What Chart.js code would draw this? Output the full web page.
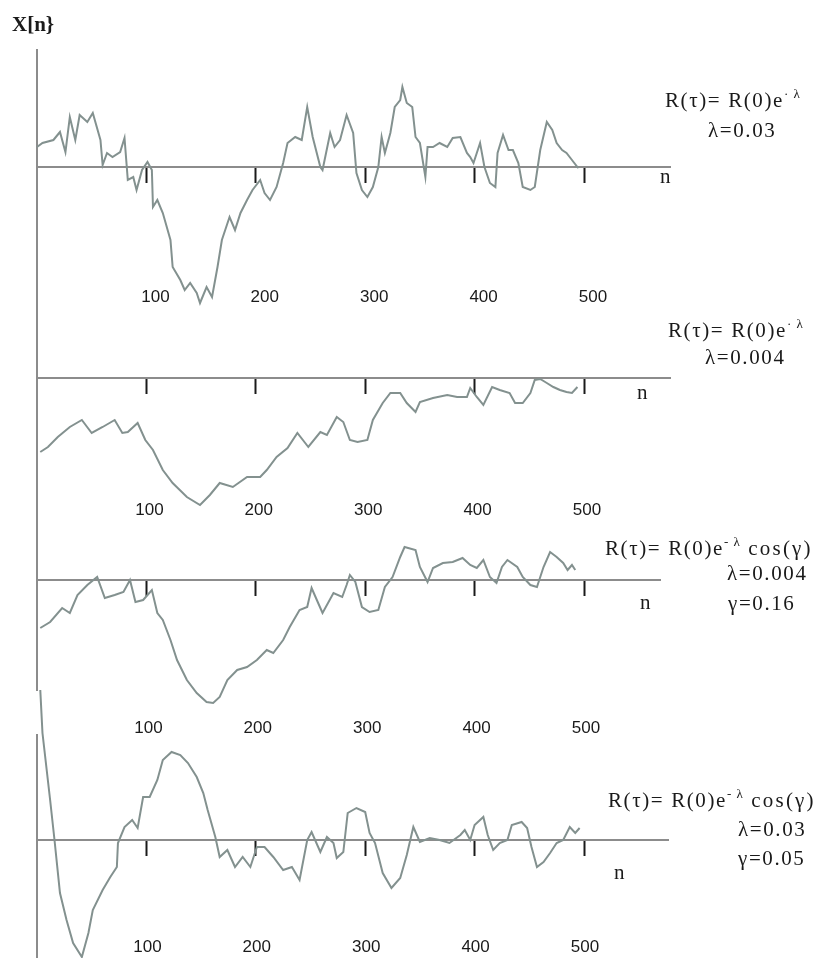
<!DOCTYPE html>
<html>
<head>
<meta charset="utf-8">
<script src="https://cdn.jsdelivr.net/npm/chart.js@4.4.1/dist/chart.umd.min.js"></script>
<style>
  html, body { margin: 0; padding: 0; background: #fff; }
  #wrap { position: relative; width: 828px; height: 958px; overflow: hidden; background: #fff; }
  #wrap canvas { position: absolute; left: 0; top: 0; }
  .t { position: absolute; font-family: "Liberation Serif", "Times New Roman", serif; color: #1a1a1a; white-space: nowrap; line-height: 1; }
  .f { font-size: 21px; letter-spacing: 1.6px; }
  .f sup { font-size: 13px; vertical-align: 9px; letter-spacing: 1px; }
  .cos { letter-spacing: 2.2px; }
</style>
</head>
<body>
<div id="wrap">
  <canvas id="c1" width="828" height="958"></canvas>
  <canvas id="c2" width="828" height="958"></canvas>
  <canvas id="c3" width="828" height="958"></canvas>
  <canvas id="c4" width="828" height="958"></canvas>
</div>
<script>
// ---------------- DATA (amplitude in arbitrary units) ----------------
const tickValues = [100, 200, 300, 400, 500];
const tickLabels = ['100', '200', '300', '400', '500'];
const yAxisTitle = 'X[n}';
const xAxisTitle = 'n';

const formulas = [
  ['R(τ)= R(0)e', '· λ', ''],
  ['R(τ)= R(0)e', '· λ', ''],
  ['R(τ)= R(0)e', '- λ', ' cos(γ)'],
  ['R(τ)= R(0)e', '- λ', ' cos(γ)']
];
const lambdas = ['λ=0.03', 'λ=0.004', 'λ=0.004', 'λ=0.03'];
const gammas = ['', '', 'γ=0.16', 'γ=0.05'];

// panel 1: exponential, lambda = 0.03
const n1 = [0,5,15,21,26,30,35,39,46,51,58,60,64,69,76,80,83,88,91,96,101,105,106,110,115,122,124,131,135,140,146,149,155,160,165,169,176,181,186,192,197,204,208,213,219,225,229,236,242,247,252,259,261,268,272,277,283,289,292,297,302,307,312,315,318,323,327,332,334,338,343,346,350,355,357,362,368,375,380,387,393,396,399,405,409,414,419,421,426,431,435,440,444,451,455,460,466,471,475,480,484,489,494,495];
const x1 = [20,24,27,35,15,50,27,52,45,54,27,2,14,10,15,29,-13,-10,-23,-3,5,-3,-40,-33,-46,-73,-100,-113,-123,-116,-126,-136,-120,-130,-100,-73,-50,-63,-46,-33,-23,-13,-26,-33,-20,4,24,30,27,60,30,0,-3,34,20,27,52,34,-6,-23,-30,-20,0,30,14,34,60,67,80,64,60,30,24,-10,20,20,24,20,29,30,14,10,4,24,0,-16,-20,14,32,17,17,4,-20,-23,-20,17,45,37,24,17,14,7,0,-1];

// panel 2: exponential, lambda = 0.004
const n2 = [3,10,19,30,41,50,60,71,78,83,92,99,106,115,124,137,149,158,167,179,192,204,210,219,229,238,248,259,265,274,280,286,293,302,307,316,323,332,338,346,350,362,375,384,393,396,402,408,416,423,432,437,444,451,455,460,466,472,478,484,489,494];
const x2 = [-74,-69,-59,-49,-42,-55,-49,-42,-55,-54,-45,-62,-72,-92,-105,-119,-127,-117,-105,-109,-99,-99,-92,-79,-70,-55,-69,-54,-57,-39,-44,-62,-64,-62,-42,-25,-15,-15,-25,-34,-24,-20,-17,-19,-19,-10,-19,-27,-9,-12,-15,-25,-25,-15,-2,-1,-5,-9,-12,-14,-15,-9];

// panel 3: exponential-cosine, lambda = 0.004, gamma = 0.16
const n3 = [3,12,23,30,37,46,55,62,71,79,85,90,97,105,110,115,122,128,137,146,155,161,167,174,183,192,201,210,216,225,231,240,247,251,257,261,271,279,283,286,291,297,304,312,318,325,332,336,346,350,357,362,371,380,389,396,402,408,414,420,425,430,439,444,451,457,463,469,475,481,485,489,492];
const x3 = [-48,-42,-28,-33,-15,-5,3,-18,-15,-12,0,-22,-20,-10,-33,-40,-60,-80,-100,-113,-122,-123,-117,-100,-90,-87,-80,-70,-73,-60,-47,-30,-27,-8,-23,-33,-13,-17,-5,5,-2,-27,-32,-30,-7,3,23,33,30,13,-2,12,17,18,22,15,12,20,3,-3,13,20,13,3,-5,-7,13,28,23,17,10,15,10];

// panel 4: exponential-cosine, lambda = 0.03, gamma = 0.05
const n4 = [3,5,12,16,21,27,33,41,47,51,60,67,73,74,80,87,92,97,103,110,115,123,131,138,146,152,156,163,167,174,181,188,195,201,208,216,225,233,240,247,251,259,265,271,274,280,284,292,300,304,309,316,324,332,338,344,350,359,368,377,387,391,396,400,408,412,417,423,430,434,443,448,452,457,463,469,475,481,487,492,496];
const x4 = [150,107,40,0,-53,-80,-103,-117,-93,-70,-50,-37,-27,-3,13,20,12,43,43,60,80,88,85,77,63,47,30,3,-17,-10,-27,-17,-27,-7,-7,-17,-30,-27,-40,0,8,-12,3,-3,-18,-12,27,32,28,7,-3,-33,-48,-38,-15,13,-2,2,0,-3,5,10,0,15,23,5,-10,-3,0,15,18,12,-7,-27,-22,-13,-3,0,13,7,12];

const series = [[n1, x1], [n2, x2], [n3, x3], [n4, x4]];

// ---------------- LAYOUT ----------------
const W = 828, H = 958, AX_LEFT = 37, PX_PER_N = 547 / 500;
const panels = [
  { top: 50,  bottom: 270, base: 167, right: 670, pad: 105, off: 9 },
  { top: 270, bottom: 480, base: 378, right: 670, pad: 107, off: 3 },
  { top: 480, bottom: 690, base: 580, right: 660, pad: 123, off: 2 },
  { top: 735, bottom: 958, base: 840, right: 668, pad: 82,  off: 1 }
];
const LINE_COLOR = '#83918f';
const AXIS_COLOR = '#8c8c8c';

panels.forEach((p, i) => {
  const [ns, vs] = series[i];
  new Chart(document.getElementById('c' + (i + 1)), {
    type: 'line',
    data: {
      datasets: [{
        data: ns.map((n, k) => ({ x: n, y: vs[k] })),
        borderColor: LINE_COLOR,
        borderWidth: 2,
        pointRadius: 0,
        tension: 0,
        fill: false,
        clip: false
      }]
    },
    options: {
      responsive: false,
      animation: false,
      events: [],
      layout: { padding: { left: AX_LEFT, right: W - p.right, top: p.top, bottom: H - p.bottom } },
      plugins: { legend: { display: false }, tooltip: { enabled: false } },
      scales: {
        x: {
          type: 'linear',
          min: 0,
          max: (p.right - AX_LEFT) / PX_PER_N,
          position: { y: 0 },
          afterBuildTicks: (s) => { s.ticks = tickValues.map(v => ({ value: v })); },
          grid: { display: true, drawOnChartArea: false, drawTicks: true, tickLength: 15, tickWidth: 2, tickColor: '#1a1a1a' },
          border: { display: true, color: AXIS_COLOR, width: 2 },
          ticks: {
            autoSkip: false, maxRotation: 0,
            padding: p.pad, labelOffset: p.off,
            color: '#1a1a1a',
            font: { family: 'Liberation Sans', size: 17 },
            callback: (v) => { const k = tickValues.indexOf(v); return k >= 0 ? tickLabels[k] : ''; }
          }
        },
        y: {
          type: 'linear',
          min: -(p.bottom - p.base),
          max: p.base - p.top,
          position: 'left',
          grid: { display: false, drawTicks: false },
          ticks: { display: false },
          border: { display: true, color: AXIS_COLOR, width: 2 }
        }
      }
    }
  });
});

// ---------------- TEXT ----------------
const wrap = document.getElementById('wrap');
function addText(html, left, top, cls, style) {
  const d = document.createElement('div');
  d.className = 't ' + (cls || '');
  d.innerHTML = html;
  d.style.left = left + 'px';
  d.style.top = top + 'px';
  if (style) Object.assign(d.style, style);
  wrap.appendChild(d);
  return d;
}
addText(yAxisTitle, 12, 14, '', { fontSize: '21px', fontWeight: 'bold' });

const textPos = [
  { f: [665, 87],  l: [708, 120], g: null,       n: [660, 166] },
  { f: [668, 317], l: [705, 347], g: null,       n: [637, 382] },
  { f: [605, 535], l: [727, 563], g: [728, 593], n: [640, 592] },
  { f: [608, 787], l: [738, 819], g: [738, 848], n: [614, 862] }
];
textPos.forEach((tp, i) => {
  const [a, sup, c] = formulas[i];
  addText(a + '<sup>' + sup + '</sup>' + (c ? '<span class="cos">' + c + '</span>' : ''), tp.f[0], tp.f[1], 'f');
  addText(lambdas[i], tp.l[0], tp.l[1], 'f');
  if (tp.g) addText(gammas[i], tp.g[0], tp.g[1], 'f');
  addText(xAxisTitle, tp.n[0], tp.n[1], 'f');
});
</script>
</body>
</html>
